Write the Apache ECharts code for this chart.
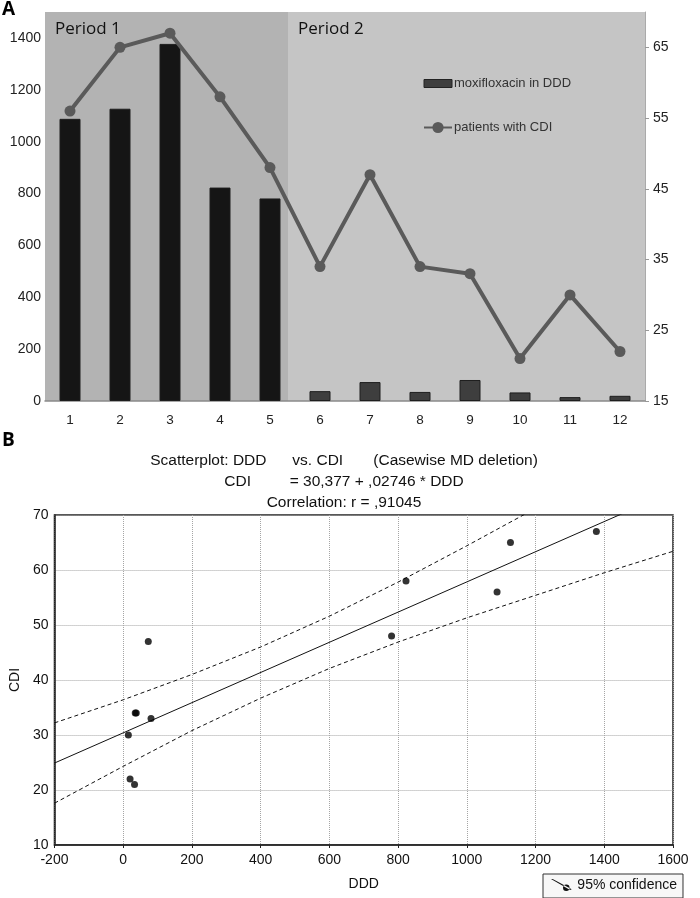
<!DOCTYPE html>
<html>
<head>
<meta charset="utf-8">
<script src="https://cdn.jsdelivr.net/npm/echarts@6/dist/echarts.min.js"></script>
<style>
  html, body { margin: 0; padding: 0; background: #fff; }
  #main { width: 700px; height: 898px; }
</style>
</head>
<body>
<div id="main"></div>
<script>
// months 1..12, moxifloxacin use (DDD) and patients with CDI
const months = ['1', '2', '3', '4', '5', '6', '7', '8', '9', '10', '11', '12']
const dddValues = [1088, 1127, 1377, 823, 781, 38, 73, 35, 81, 33, 15, 20]
const cdiValues = [56, 65, 67, 58, 48, 34, 47, 34, 33, 21, 30, 22]

// shaded periods, in category units on a hidden value axis
const periodNames = ['Period 1', 'Period 2']
const periodBounds = [[0.5, 5.36], [5.36, 12.5]]
const periodColors = ['#b3b3b3', '#c5c5c5']

// panel B: regression line and 95% band
const fitLine = [[-200, 24.9], [1600, 74.3]]
const bandX = [-200, 0, 200, 400, 600, 800, 1000, 1200, 1400, 1600]
const upperBand = [32.2, 36.4, 41.0, 46.0, 51.6, 57.8, 64.4, 71.2, 78.2, 85.2]
const lowerBand = [17.6, 24.3, 30.8, 36.7, 42.1, 46.9, 51.3, 55.4, 59.5, 63.4]

const scatterData = dddValues.map((v, i) => [v, cdiValues[i]])
const upperData = bandX.map((v, i) => [v, upperBand[i]])
const lowerData = bandX.map((v, i) => [v, lowerBand[i]])

const chart = echarts.init(document.getElementById('main'), null, { renderer: 'canvas' })
const font = '"Liberation Sans", Arial, sans-serif'
const plain = v => String(v)

let option = {
  animation: false,
  backgroundColor: '#fff',
  textStyle: { fontFamily: font },
  title: {
    text: 'Scatterplot: DDD      vs. CDI       (Casewise MD deletion)\nCDI         = 30,377 + ,02746 * DDD\nCorrelation: r = ,91045',
    left: 339,
    top: 445,
    textAlign: 'center',
    textStyle: { fontSize: 15.5, fontWeight: 'normal', color: '#111', lineHeight: 21, fontFamily: font }
  },
  graphic: [
    { type: 'text', left: 2, top: 0, style: { text: 'A', font: 'bold 19px "Open Sans", sans-serif', fill: '#000' } },
    { type: 'text', left: 2, top: 431, style: { text: 'B', font: 'bold 19px "Open Sans", sans-serif', fill: '#000' } }
  ],
  legend: [{
    orient: 'vertical',
    left: 418,
    top: 72,
    itemGap: 31,
    itemWidth: 28,
    itemHeight: 14,
    textStyle: { fontSize: 13, color: '#333', fontFamily: font, padding: [0, 0, 0, -3] },
    data: [
      { name: 'moxifloxacin in DDD', icon: 'path://M0,0H28V8H0Z', itemStyle: { color: '#3e3e3e', borderColor: '#222', borderWidth: 1 } },
      { name: 'patients with CDI' }
    ]
  }, {
    left: 543,
    top: 874,
    padding: [4, 6, 6, 8],
    borderColor: '#333',
    borderWidth: 1,
    backgroundColor: '#f7f7f7',
    borderRadius: 0,
    itemWidth: 22,
    itemHeight: 12,
    itemGap: 4,
    textStyle: { fontSize: 14, color: '#111', fontFamily: font },
    data: [
      { name: '95% confidence', icon: 'path://M0,0L1.5,0L19,9.5L17.5,10Z M14,8m-3,0a3,3,0,1,0,6,0a3,3,0,1,0,-6,0Z' }
    ]
  }],
  grid: [
    { left: 45, top: 12, width: 600, height: 389 },
    { left: 39, top: 515, width: 634, height: 330, show: true, borderColor: '#222', borderWidth: 1.5, backgroundColor: '#fff' }
  ],
  xAxis: [{
    type: 'category',
    gridIndex: 0,
    data: months,
    axisLine: { lineStyle: { color: '#8a8a8a', width: 1.5 } },
    axisTick: { length: 4, lineStyle: { color: '#8a8a8a' } },
    axisLabel: { fontSize: 13.5, color: '#222', margin: 12 }
  }, {
    type: 'value',
    gridIndex: 0,
    min: 0.5,
    max: 12.5,
    show: false
  }, {
    type: 'value',
    gridIndex: 1,
    min: -200,
    max: 1600,
    interval: 200,
    name: 'DDD',
    nameLocation: 'middle',
    nameGap: 32,
    nameTextStyle: { fontSize: 14, color: '#111' },
    axisLine: { onZero: false, lineStyle: { color: '#222', width: 1.5 } },
    axisTick: { length: 3, lineStyle: { color: '#222' } },
    axisLabel: { fontSize: 14, color: '#111', margin: 8, formatter: plain },
    splitLine: { show: true, lineStyle: { color: '#a5a5a5', type: 'dotted', width: 1 } }
  }],
  yAxis: [{
    type: 'value',
    gridIndex: 0,
    min: 0,
    max: 1500,
    interval: 200,
    axisLine: { show: false },
    axisTick: { show: false },
    splitLine: { show: false },
    axisLabel: { fontSize: 14, color: '#222', margin: 4, showMaxLabel: false, formatter: plain }
  }, {
    type: 'value',
    gridIndex: 0,
    position: 'right',
    min: 15,
    max: 70,
    interval: 10,
    axisLine: { show: true, lineStyle: { color: '#aaa', width: 1 } },
    axisTick: { show: true, length: 4, lineStyle: { color: '#999' } },
    splitLine: { show: false },
    axisLabel: { fontSize: 14, color: '#222', margin: 8, showMaxLabel: false }
  }, {
    type: 'value',
    gridIndex: 1,
    min: 10,
    max: 70,
    interval: 10,
    name: 'CDI',
    nameLocation: 'middle',
    nameGap: 32,
    nameRotate: 90,
    nameTextStyle: { fontSize: 14, color: '#111' },
    axisLine: { show: true, onZero: false, lineStyle: { color: '#222', width: 1.5 } },
    axisTick: { show: false },
    axisLabel: { fontSize: 14, color: '#111', margin: 6 },
    splitLine: { show: true, lineStyle: { color: '#a5a5a5', type: 'dotted', width: 1 } }
  }],
  series: [{
    // period backgrounds
    type: 'custom',
    xAxisIndex: 1,
    yAxisIndex: 0,
    silent: true,
    z: 0,
    data: periodBounds,
    encode: { x: [0, 1] },
    renderItem: function (params, api) {
      let cs = params.coordSys
      let x0 = api.coord([api.value(0), 0])[0]
      let x1 = api.coord([api.value(1), 0])[0]
      return {
        type: 'group',
        children: [{
          type: 'rect',
          shape: { x: x0, y: cs.y, width: x1 - x0, height: cs.height },
          style: { fill: periodColors[params.dataIndex] }
        }, {
          type: 'text',
          x: x0 + 10,
          y: cs.y + 17,
          style: {
            text: periodNames[params.dataIndex],
            font: '17px "Open Sans", sans-serif',
            fill: '#111',
            verticalAlign: 'middle'
          }
        }]
      }
    }
  }, {
    name: 'moxifloxacin in DDD',
    type: 'bar',
    xAxisIndex: 0,
    yAxisIndex: 0,
    barWidth: 21,
    z: 2,
    data: dddValues,
    itemStyle: {
      color: function (p) {
        return p.dataIndex < 5 ? '#151515' : '#3e3e3e'
      },
      borderColor: '#1e1e1e',
      borderWidth: 1
    }
  }, {
    name: 'patients with CDI',
    type: 'line',
    xAxisIndex: 0,
    yAxisIndex: 1,
    z: 3,
    data: cdiValues,
    symbol: 'circle',
    symbolSize: 11,
    lineStyle: { color: '#5a5a5a', width: 4 },
    itemStyle: { color: '#5a5a5a' }
  }, {
    name: 'scatter',
    type: 'scatter',
    xAxisIndex: 2,
    yAxisIndex: 2,
    symbolSize: 7,
    z: 4,
    data: scatterData,
    itemStyle: { color: '#000' }
  }, {
    name: 'fit',
    type: 'line',
    xAxisIndex: 2,
    yAxisIndex: 2,
    showSymbol: false,
    data: fitLine,
    lineStyle: { color: '#111', width: 1 },
    itemStyle: { color: '#111' }
  }, {
    name: '95% confidence',
    type: 'line',
    xAxisIndex: 2,
    yAxisIndex: 2,
    showSymbol: false,
    data: upperData,
    lineStyle: { color: '#111', width: 1, type: [4, 3] },
    itemStyle: { color: '#111' }
  }, {
    name: '95% confidence',
    type: 'line',
    xAxisIndex: 2,
    yAxisIndex: 2,
    showSymbol: false,
    data: lowerData,
    lineStyle: { color: '#111', width: 1, type: [4, 3] },
    itemStyle: { color: '#111' }
  }]
}

chart.setOption(option)
</script>
</body>
</html>
